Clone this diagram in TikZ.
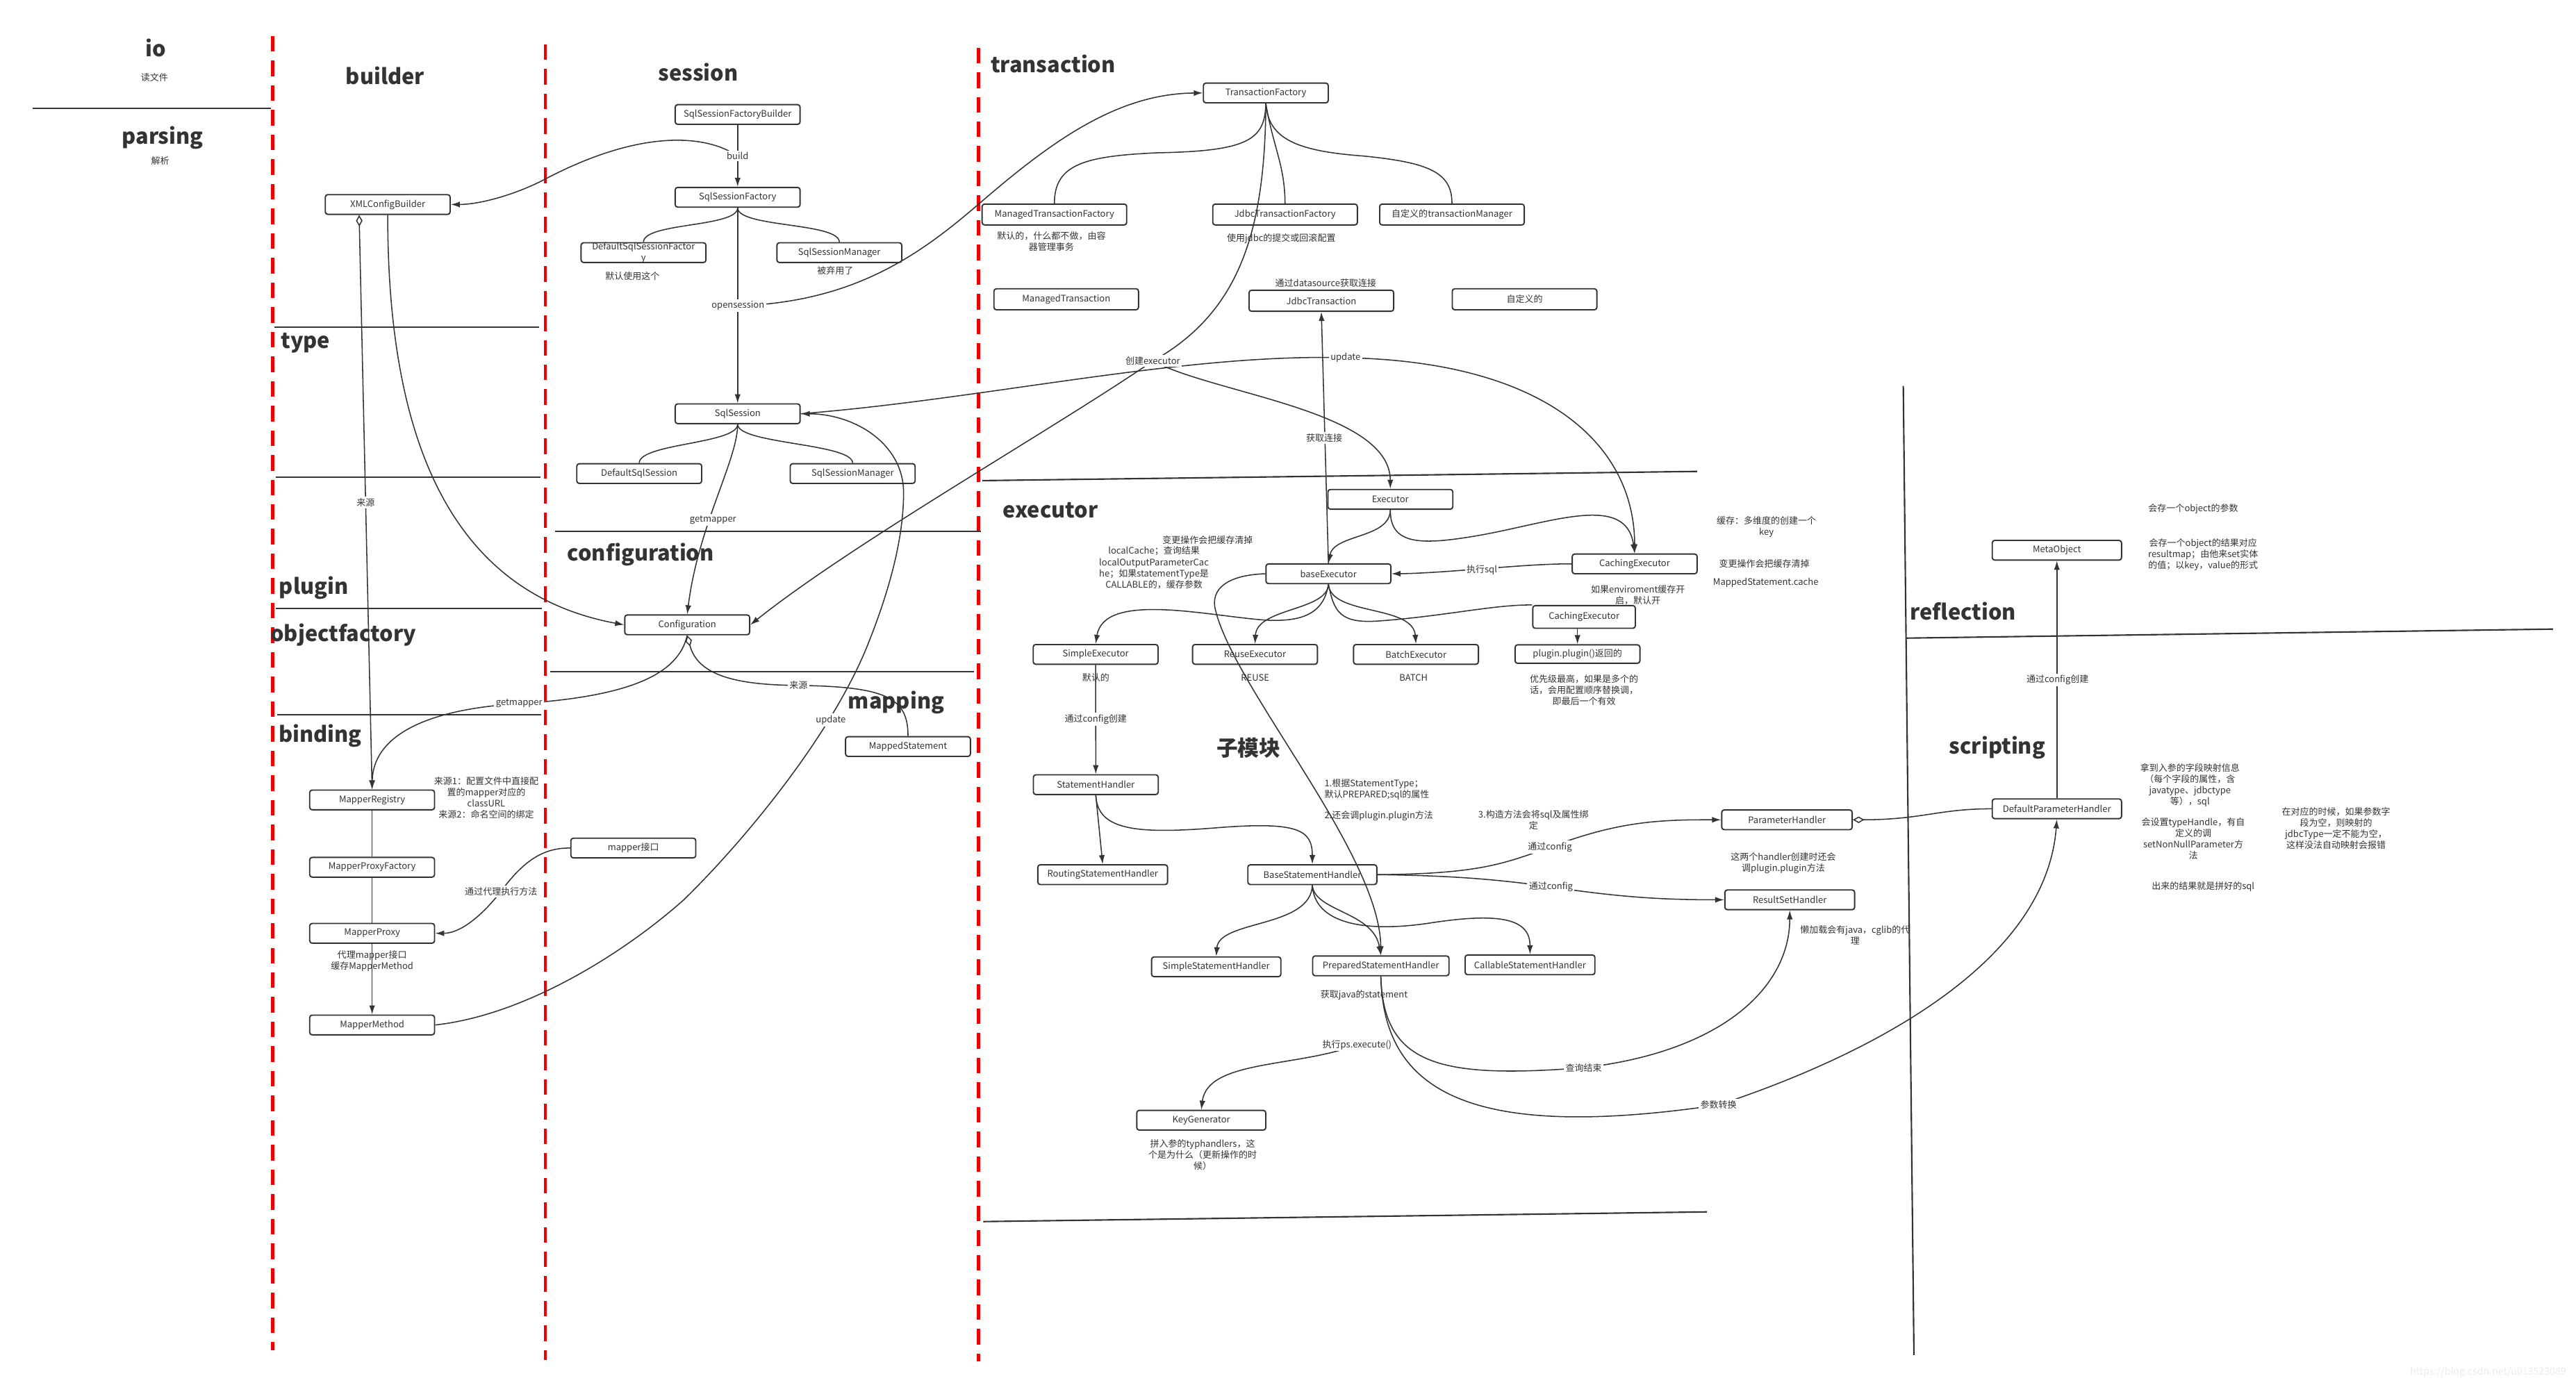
\documentclass[tikz,border=0pt]{standalone}
\usepackage{fontspec}
\setmainfont{Noto Sans CJK SC}
\usetikzlibrary{arrows.meta}
\pgfdeclarelayer{fg}
\pgfsetlayers{main,fg}
\definecolor{ink}{HTML}{333333}
\definecolor{redl}{HTML}{F00000}
\newcommand\fsn{\fontsize{5.5}{6.8}\selectfont}
\newcommand\fst{\fontsize{13}{15.5}\selectfont\bfseries}
\begin{document}
\begin{tikzpicture}[x=1pt,y=-1pt,
 box/.style={draw=ink,line width=0.8pt,rounded corners=1.5pt,fill=white,minimum width=76pt,minimum height=12pt,inner sep=0pt,font=\fsn,text=ink},
 txt/.style={font=\fsn,text=ink,inner sep=0pt,align=center},
 lbl/.style={font=\fsn,text=ink,inner sep=1pt,fill=white},
 ttl/.style={font=\fst,text=ink,inner sep=0pt},
 edge/.style={draw=ink,line width=0.65pt},
 arr/.style={edge,-{Latex[length=5.5pt,width=3.6pt]}},
 dia/.style={edge,{Diamond[open,length=7pt,width=4pt]}-},
 sep/.style={draw=ink,line width=0.9pt},
 redsep/.style={draw=redl,line width=2pt,dash pattern=on 9.5pt off 5.5pt},
]
\fill[white] (0,0) rectangle (1568,843);
\useasboundingbox (0,0) rectangle (1568,843);

% red column separators
\draw[redsep] (166,22) -- (166,822);
\draw[redsep] (332,27) -- (332,828);
\draw[redsep] (595.5,29) -- (595.5,829);

% section dividers
\draw[sep] (20,66) -- (165,66);
\draw[sep] (167,199) -- (328,199);
\draw[sep] (168,290.6) -- (329,290.6);
\draw[sep] (168,370.5) -- (330,370.5);
\draw[sep] (168.7,435.3) -- (329.4,435.3);
\draw[sep] (338,323.5) -- (597,323.5);
\draw[sep] (335,409) -- (593,409);
\draw[sep] (598,292.6) -- (1033,287);
\draw[sep] (598.5,743.7) -- (1039,737.8);
\draw[sep] (1158.5,235) -- (1165,825);
\draw[sep] (1160,388.5) -- (1554,383);

% titles
\node[ttl] (tIo) at (95,29) {io};
\node[ttl] (tParsing) at (99,84) {parsing};
\node[ttl] (tBuilder) at (234.5,46) {builder};
\node[ttl] (tType) at (186,209) {type};
\node[ttl] (tPlugin) at (191,358) {plugin};
\node[ttl] (tObjf) at (209,386.5) {objectfactory};
\node[ttl] (tBinding) at (195,448) {binding};
\node[ttl] (tSession) at (425,44) {session};
\node[ttl] (tConfig) at (390,337.5) {configuration};
\node[ttl] (tMapping) at (545.5,427.6) {mapping};
\node[ttl] (tTrans) at (641,38.8) {transaction};
\node[ttl] (tExec) at (639.4,310.8) {executor};
\node[ttl] (tSub) at (760,455.4) {子模块};
\node[ttl] (tRefl) at (1195,372) {reflection};
\node[ttl] (tScript) at (1215.7,455) {scripting};

% boxes
\node[box] (xcb) at (236,124.5) {XMLConfigBuilder};
\node[box] (ssfb) at (449,69.7) {SqlSessionFactoryBuilder};
\node[box] (ssf) at (449,120.1) {SqlSessionFactory};
\node[box] (dssf) at (391.7,153.8) {};
\node[txt] (dssfT) at (391.7,153.9) {DefaultSqlSessionFactor\\y};
\node[box] (ssm1) at (510.9,153.8) {SqlSessionManager};
\node[box] (ss) at (449,251.9) {SqlSession};
\node[box] (dss) at (389.1,288.3) {DefaultSqlSession};
\node[box] (ssm2) at (519,288.3) {SqlSessionManager};
\node[box] (conf) at (418.3,380.4) {Configuration};
\node[box] (ms) at (552.7,454.5) {MappedStatement};
\node[box] (mif) at (385.5,516.3) {mapper接口};
\node[box] (mr) at (226.5,487) {MapperRegistry};
\node[box] (mpf) at (226.5,528) {MapperProxyFactory};
\node[box] (mp) at (226.5,568.2) {MapperProxy};
\node[box] (mm) at (226.5,624) {MapperMethod};
\node[box] (tf) at (770.5,56.6) {TransactionFactory};
\node[box,minimum width=88pt,minimum height=12.7pt] (mtf) at (641.8,130.6) {ManagedTransactionFactory};
\node[box,minimum width=88pt,minimum height=12.7pt] (jtf) at (782.2,130.6) {JdbcTransactionFactory};
\node[box,minimum width=88pt,minimum height=12.7pt] (ctm) at (883.8,130.6) {自定义的transactionManager};
\node[box,minimum width=88pt,minimum height=12.8pt] (mt) at (649,182.2) {ManagedTransaction};
\node[box,minimum width=88pt,minimum height=12.8pt] (jt) at (804.3,183.1) {JdbcTransaction};
\node[box,minimum width=88pt,minimum height=12.8pt] (ct) at (928,182.2) {自定义的};
\node[box] (exec) at (846.3,304) {Executor};
\node[box] (ce1) at (995,343.3) {CachingExecutor};
\node[box] (be) at (808.6,349.3) {baseExecutor};
\node[box,minimum width=62.4pt,minimum height=13.8pt] (ce2) at (964.2,375.6) {CachingExecutor};
\node[box,minimum height=11.2pt] (plg) at (960.2,398.2) {plugin.plugin()返回的};
\node[box] (se) at (666.9,398.4) {SimpleExecutor};
\node[box] (re) at (763.9,398.4) {ReuseExecutor};
\node[box] (bex) at (861.9,398.4) {BatchExecutor};
\node[box] (sh) at (667,477.7) {StatementHandler};
\node[box,minimum width=79pt] (rsth) at (671.2,532.5) {RoutingStatementHandler};
\node[box,minimum width=78.5pt] (bsh) at (798.8,532.5) {BaseStatementHandler};
\node[box,minimum width=78.7pt] (ssh) at (740.3,588.6) {SimpleStatementHandler};
\node[box,minimum width=83pt] (psh) at (840.5,588) {PreparedStatementHandler};
\node[box,minimum width=79pt] (csh) at (931.3,587.4) {CallableStatementHandler};
\node[box,minimum width=78.5pt] (kg) at (731.2,682) {KeyGenerator};
\node[box,minimum width=79.4pt] (ph) at (1087.7,499.1) {ParameterHandler};
\node[box,minimum width=79pt] (rsh) at (1089.4,547.8) {ResultSetHandler};
\node[box,minimum width=78.7pt] (dph) at (1252,492.4) {DefaultParameterHandler};
\node[box,minimum width=78.7pt] (mo) at (1252,335) {MetaObject};

% notes
\node[txt] (nIo) at (94,47) {读文件};
\node[txt] (nParsing) at (97.5,98) {解析};
\node[txt] (n1) at (385,168.3) {默认使用这个};
\node[txt] (n2) at (508.4,164.8) {被弃用了};
\node[txt] (n3) at (296,485.75) {来源1：配置文件中直接配\\置的mapper对应的\\classURL\\来源2：命名空间的绑定};
\node[txt] (n4) at (226.5,585) {代理mapper接口\\缓存MapperMethod};
\node[txt] (n5) at (640,146.8) {默认的，什么都不做，由容\\器管理事务};
\node[txt] (n6) at (779.9,145.2) {使用jdbc的提交或回滚配置};
\node[txt] (n7) at (807,172.2) {通过datasource获取连接};
\node[txt] (n8) at (735.1,328.6) {变更操作会把缓存清掉};
\node[txt] (n9) at (702.4,345.6) {localCache；查询结果\\localOutputParameterCac\\he；如果statementType是\\CALLABLE的，缓存参数};
\node[txt] (n10) at (997,362.2) {如果enviroment缓存开\\启，默认开};
\node[txt] (n11) at (964.2,420) {优先级最高，如果是多个的\\话，会用配置顺序替换调，\\即最后一个有效};
\node[txt] (n12) at (667,412.4) {默认的};
\node[txt] (n13) at (764,412.4) {REUSE};
\node[txt] (n14) at (860.4,412.4) {BATCH};
\node[txt] (n15) at (1075.2,320.6) {缓存：多维度的创建一个\\key};
\node[txt] (n16) at (1073.9,343.2) {变更操作会把缓存清掉};
\node[txt] (n17) at (1074.8,354.9) {MappedStatement.cache};
\node[txt,anchor=west,align=left] (n18) at (806,480.7) {1.根据StatementType；\\默认PREPARED;sql的属性};
\node[txt,anchor=west] (n19) at (806,496.6) {2.还会调plugin.plugin方法};
\node[txt] (n20) at (933.4,499.3) {3.构造方法会将sql及属性绑\\定};
\node[txt] (n21) at (1085.5,525.5) {这两个handler创建时还会\\调plugin.plugin方法};
\node[txt] (n22) at (1129.2,569.4) {懒加载会有java，cglib的代\\理};
\node[txt] (n23) at (830.3,605.6) {获取java的statement};
\node[txt] (n24) at (732,703) {拼入参的typhandlers，这\\个是为什么（更新操作的时\\候）};
\node[txt] (n25) at (1335,309.8) {会存一个object的参数};
\node[txt] (n26) at (1341,337.7) {会存一个object的结果对应\\resultmap；由他来set实体\\的值；以key，value的形式};
\node[txt] (n27) at (1333,477.9) {拿到入参的字段映射信息\\（每个字段的属性，含\\javatype、jdbctype\\等），sql};
\node[txt] (n28) at (1335,510.7) {会设置typeHandle，有自\\定义的调\\setNonNullParameter方\\法};
\node[txt] (n29) at (1421.9,504.4) {在对应的时候，如果参数字\\段为空，则映射的\\jdbcType一定不能为空，\\这样没法自动映射会报错};
\node[txt] (n30) at (1341,539.7) {出来的结果就是拼好的sql};
\node[txt,text=gray!15,font=\fontsize{6}{7}\selectfont] (wm) at (1514.5,835.5) {https://blog.csdn.net/u013523089};

% edge labels (foreground)
\begin{pgfonlayer}{fg}
\node[lbl] (lBuild) at (449,95) {build};
\node[lbl] (lOpen) at (449.2,186.2) {opensession};
\node[lbl] (lGm1) at (434,316.5) {getmapper};
\node[lbl] (lSrc1) at (222.6,305.8) {来源};
\node[lbl] (lGm2) at (316,428.4) {getmapper};
\node[lbl] (lSrc2) at (486,417.3) {来源};
\node[lbl] (lUpd1) at (505.7,438.3) {update};
\node[lbl] (lProxy) at (305,542.6) {通过代理执行方法};
\node[lbl] (lCreate) at (701.7,219.8) {创建executor};
\node[lbl] (lUpd2) at (819,217.8) {update};
\node[lbl] (lConn) at (806,266.6) {获取连接};
\node[lbl] (lSql) at (902,347) {执行sql};
\node[lbl] (lCfg1) at (667,437.8) {通过config创建};
\node[lbl] (lCfg2) at (943.4,515.8) {通过config};
\node[lbl] (lCfg3) at (944,540) {通过config};
\node[lbl] (lEnd) at (964,650) {查询结束};
\node[lbl] (lConv) at (1046,672.7) {参数转换};
\node[lbl] (lPs) at (826,636) {执行ps.execute()};
\node[lbl] (lCfg4) at (1252.4,414) {通过config创建};
\end{pgfonlayer}

% session edges
\draw[arr] (ssfb.south) -- (ssf.north);
\draw[arr] (lBuild.center) .. controls (430,82) and (390,78) .. (330,110) .. controls (310,120) and (290,124.5) .. (xcb.east);
\draw[arr] (ssf.south) -- (ss.north);
\draw[arr] (lOpen.center) .. controls (520,184) and (560,155) .. (596,124) .. controls (640,86) and (680,57) .. (tf.west);
\draw[edge] (ssf.south) .. controls +(0,12) and +(0,-12) .. (dssf.north);
\draw[edge] (ssf.south) .. controls +(0,12) and +(0,-12) .. (ssm1.north);
\draw[edge] (ss.south) .. controls +(0,12) and +(0,-12) .. (dss.north);
\draw[edge] (ss.south) .. controls +(0,12) and +(0,-12) .. (ssm2.north);
\draw[arr] (ss.south) .. controls (449,280) and (425,320) .. (conf.north);

% builder / binding
\draw[edge,{Diamond[open,length=7pt,width=4pt]}-{Latex[length=5.5pt,width=3.6pt]}] ([xshift=21pt]xcb.south west) -- (mr.north);
\draw[arr] (xcb.south) .. controls (236,260) and (270,360) .. (conf.west);
\draw[arr] (conf.south) .. controls (413,410) and (385,424) .. (316,428.4) .. controls (255,432) and (227,450) .. (mr.north);
\draw[dia] (conf.south) .. controls (425,412) and (450,417) .. (486,417.3) .. controls (540,418) and (552.7,425) .. (ms.north);
\draw[edge] (mr.south) -- (mpf.north);
\draw[edge] (mpf.south) -- (mp.north);
\draw[arr] (mp.south) -- (mm.north);
\draw[arr] (mif.west) .. controls (330,516) and (318,525) .. (305,542.6) .. controls (293,558) and (280,568.2) .. (mp.east);
\draw[arr] (mm.east) .. controls (320,618) and (380,580) .. (416,548) .. controls (450,515) and (505,450) .. (528,393) .. controls (540,363) and (550,330) .. (550,300) .. controls (550,270) and (520,252) .. (ss.east);

% transaction
\draw[edge] (tf.south) .. controls (770,85) and (760,92) .. (705,93) .. controls (660,95) and (641.8,100) .. (mtf.north);
\draw[edge] (tf.south) .. controls (775,90) and (782,100) .. (jtf.north);
\draw[edge] (tf.south) .. controls (772,85) and (790,92) .. (830,95) .. controls (870,99) and (883.8,105) .. (ctm.north);
\draw[edge] (tf.south) .. controls (770,140) and (755,190) .. (lCreate.center);
\draw[arr] (lCreate.center) .. controls (740,240) and (846,250) .. (exec.north);
\draw[arr] (lCreate.center) .. controls (640,262) and (520,330) .. (conf.east);
\draw[edge] (ss.east) .. controls (600,243) and (720,215) .. (lUpd2.center);
\draw[arr] (lUpd2.center) .. controls (940,220) and (995,270) .. (ce1.north);

% executor
\draw[arr] (be.north) -- (jt.south);
\draw[arr] (exec.south) .. controls (846,328) and (812,325) .. (be.north);
\draw[arr] (exec.south) .. controls (846,332) and (865,332) .. (900,326) .. controls (945,318) and (990,300) .. (ce1.north);
\draw[arr] (ce1.west) .. controls (930,343) and (880,349) .. (be.east);
\draw[arr] (be.south) .. controls (806,372) and (795,379) .. (770,377.5) .. controls (735,375) and (672,360) .. (se.north);
\draw[arr] (be.south) .. controls (808,372) and (765,370) .. (re.north);
\draw[arr] (be.south) .. controls (810,375) and (860,368) .. (bex.north);
\draw[edge] (be.south) .. controls (812,372) and (815,380) .. (840,378) .. controls (880,375) and (910,368) .. (ce2.north west);
\draw[arr] (ce2.south -| plg.north) -- (plg.north);
\draw[arr] (be.west) .. controls (748,350) and (736,358) .. (740,372) .. controls (752,420) and (840,520) .. (psh.north);
\draw[arr] (se.south) -- (sh.north);

% statement handlers
\draw[arr] (sh.south) -- (rsth.north);
\draw[arr] (sh.south) .. controls (668,505) and (690,508) .. (740,504) .. controls (790,500) and (798.8,505) .. (bsh.north);
\draw[arr] (bsh.south) .. controls (798,565) and (742,560) .. (ssh.north);
\draw[arr] (bsh.south) .. controls (800,555) and (836,555) .. (psh.north);
\draw[arr] (bsh.south) .. controls (800,562) and (830,568) .. (870,562) .. controls (915,555) and (931.3,560) .. (csh.north);
\draw[arr] (bsh.east) .. controls (900,532) and (915,526) .. (lCfg2.center) .. controls (985,500) and (1010,499) .. (ph.west);
\draw[arr] (bsh.east) .. controls (880,533) and (910,535) .. (lCfg3.center) .. controls (985,546) and (1010,547.8) .. (rsh.west);
\draw[arr] (psh.south) .. controls (842,648) and (875,657) .. (lEnd.center) .. controls (1050,640) and (1089.4,600) .. (rsh.south);
\draw[arr] (psh.south) .. controls (842,665) and (895,695) .. (lConv.center) .. controls (1130,645) and (1245,590) .. (dph.south);
\draw[arr] (lPs.center) .. controls (790,650) and (735,645) .. (kg.north);

% scripting / reflection
\draw[dia] (ph.east) .. controls (1170,499) and (1180,492.4) .. (dph.west);
\draw[arr] (dph.north) -- (mo.south);
\end{tikzpicture}
\end{document}
